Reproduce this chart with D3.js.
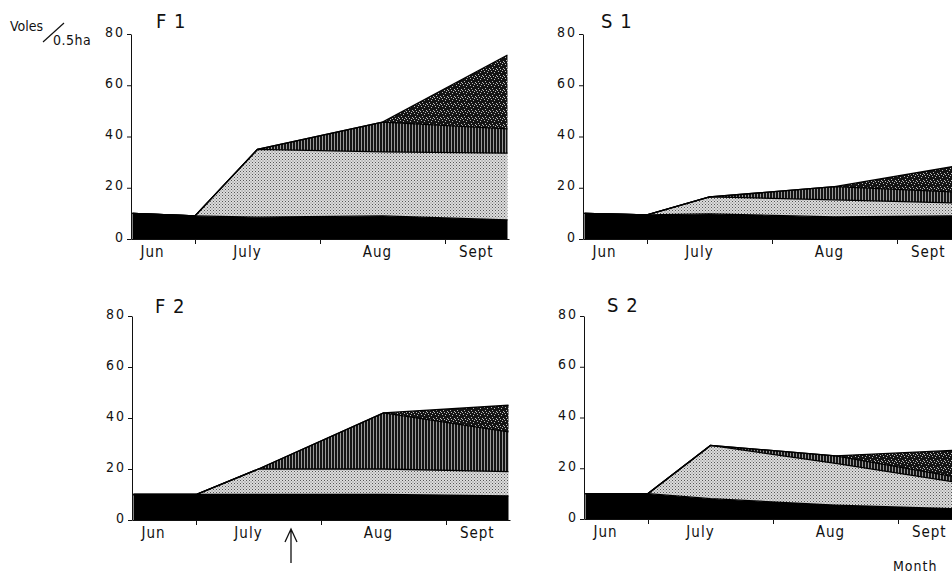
<!DOCTYPE html>
<html>
  <head>
    <meta charset="utf-8">
    <title>voles per 0.5 ha</title>
    <style>
      body { margin: 0; background-color: white; }
      svg text { font-family: "DejaVu Sans Condensed", "DejaVu Sans", sans-serif; fill: #111; }
      .axis path, .axis line { stroke: #111; stroke-width: 1; }
      .axis text { font-size: 14px; letter-spacing: 2px; }
    </style>
  </head>
  <body>
    <div id="chart"></div>

    <script src="https://d3js.org/d3.v7.min.js"></script>
    <script>
    var width = 952;
    var height = 576;

    // trapping sessions, in months counted from 1 June
    var sessions = [0.5, 1.0, 1.5, 2.5, 3.5];
    var monthTicks = [1, 2, 3];
    var monthLabels = ["Jun", "July", "Aug", "Sept"];
    var monthLabelAt = [0.66, 1.42, 2.46, 3.25];
    var yTicks = [0, 20, 40, 60, 80];
    var layerNames = ["black", "light", "hatch", "dark"];

    // layer thickness at each session (voles / 0.5 ha)
    var f1Black = [10, 9, 8.5, 9, 7.5];
    var f1Light = [0, 0, 26.5, 25, 26];
    var f1Hatch = [0, 0, 0, 11.6, 9.5];
    var f1Dark  = [0, 0, 0, 0, 28.8];

    var s1Black = [10, 9.4, 9.8, 8.6, 9];
    var s1Light = [0, 0, 6.6, 6.7, 5];
    var s1Hatch = [0, 0, 0, 5.1, 4.3];
    var s1Dark  = [0, 0, 0, 0, 10.4];

    var f2Black = [10, 10, 10, 10, 9.5];
    var f2Light = [0, 0, 10, 10, 9.5];
    var f2Hatch = [0, 0, 0, 22, 15.6];
    var f2Dark  = [0, 0, 0, 0, 10.4];

    var s2Black = [10, 10, 8, 5.5, 4];
    var s2Light = [0, 0, 21, 16.4, 10.2];
    var s2Hatch = [0, 0, 0, 3, 2];
    var s2Dark  = [0, 0, 0, 0, 11];

    var panels = [
      {title: "F 1", layers: [f1Black, f1Light, f1Hatch, f1Dark], left: 131, bottom: 239, top: 34, tx: 156, ty: 28},
      {title: "S 1", layers: [s1Black, s1Light, s1Hatch, s1Dark], left: 583, bottom: 239, top: 34, tx: 601, ty: 28},
      {title: "F 2", layers: [f2Black, f2Light, f2Hatch, f2Dark], left: 132, bottom: 520, top: 316, tx: 155, ty: 313},
      {title: "S 2", layers: [s2Black, s2Light, s2Hatch, s2Dark], left: 584, bottom: 519, top: 316, tx: 607, ty: 312}
    ];
    var plotWidth = 378;

    var svg = d3.select("#chart").append("svg")
      .attr("width", width)
      .attr("height", height);

    // fill textures
    var defs = svg.append("defs");

    var light = defs.append("pattern").attr("id", "light")
      .attr("patternUnits", "userSpaceOnUse").attr("width", 3).attr("height", 3);
    light.append("rect").attr("width", 3).attr("height", 3).attr("fill", "#dcdcdc");
    light.append("rect").attr("x", 0).attr("y", 0).attr("width", 1).attr("height", 1).attr("fill", "#555");
    light.append("rect").attr("x", 1.5).attr("y", 1.5).attr("width", 1).attr("height", 1).attr("fill", "#777");

    var hatch = defs.append("pattern").attr("id", "hatch")
      .attr("patternUnits", "userSpaceOnUse").attr("width", 3).attr("height", 6);
    hatch.append("rect").attr("width", 3).attr("height", 6).attr("fill", "#151515");
    hatch.append("rect").attr("x", 1).attr("width", 1).attr("height", 6).attr("fill", "#9a9a9a");

    var dark = defs.append("pattern").attr("id", "dark")
      .attr("patternUnits", "userSpaceOnUse").attr("width", 7).attr("height", 7);
    dark.append("rect").attr("width", 7).attr("height", 7).attr("fill", "#141414");
    [[1, 1], [4, 2], [2, 4], [6, 5], [5, 0], [0, 6], [3, 6]].forEach(function(p) {
      dark.append("rect").attr("x", p[0]).attr("y", p[1]).attr("width", 1).attr("height", 1).attr("fill", "#bbb");
    });

    var fills = {black: "#000", light: "url(#light)", hatch: "url(#hatch)", dark: "url(#dark)"};

    panels.forEach(function(p) {
      var x = d3.scaleLinear().domain([0.488, 3.512]).range([p.left, p.left + plotWidth]);
      var y = d3.scaleLinear().domain([0, 80]).range([p.bottom, p.top]);

      var rows = sessions.map(function(t, i) {
        var r = {t: t};
        layerNames.forEach(function(k, j) { r[k] = p.layers[j][i]; });
        return r;
      });
      var stacked = d3.stack().keys(layerNames)(rows);

      var area = d3.area()
        .x(function(d) { return x(d.data.t); })
        .y0(function(d) { return y(d[0]); })
        .y1(function(d) { return y(d[1]); });
      var topLine = d3.line()
        .x(function(d) { return x(d.data.t); })
        .y(function(d) { return y(d[1]); });

      var g = svg.append("g");

      g.selectAll("path.layer")
        .data(stacked)
        .enter()
        .append("path")
        .attr("class", "layer")
        .attr("d", area)
        .attr("fill", function(d) { return fills[d.key]; });

      g.selectAll("path.edge")
        .data(stacked)
        .enter()
        .append("path")
        .attr("class", "edge")
        .attr("d", topLine)
        .attr("fill", "none")
        .attr("stroke", "#000")
        .attr("stroke-width", 1.3);

      var yAxis = g.append("g")
        .attr("class", "axis")
        .attr("transform", "translate(" + p.left + ",0)")
        .call(d3.axisLeft(y).tickValues(yTicks).tickSize(4).tickSizeOuter(0).tickPadding(2));
      yAxis.selectAll("text").attr("dy", "0.15em");

      g.append("g")
        .attr("class", "axis")
        .attr("transform", "translate(0," + p.bottom + ")")
        .call(d3.axisBottom(x).tickValues(monthTicks).tickSize(5).tickSizeOuter(0).tickFormat(""));

      g.selectAll("text.month")
        .data(monthLabels)
        .enter()
        .append("text")
        .attr("class", "month")
        .attr("x", function(d, i) { return x(monthLabelAt[i]); })
        .attr("y", p.bottom + 18)
        .attr("text-anchor", "middle")
        .style("font-size", "15px")
        .style("letter-spacing", "1px")
        .text(function(d) { return d; });

      g.append("text")
        .attr("x", p.tx)
        .attr("y", p.ty)
        .style("font-size", "20px")
        .style("letter-spacing", "1px")
        .text(p.title);
    });

    // y label "Voles / 0.5ha"
    svg.append("text").attr("x", 10).attr("y", 31).style("font-size", "14px").text("Voles");
    svg.append("line").attr("x1", 43).attr("y1", 42).attr("x2", 64).attr("y2", 23)
      .attr("stroke", "#111").attr("stroke-width", 1.2);
    svg.append("text").attr("x", 53).attr("y", 45).style("font-size", "14px")
      .style("letter-spacing", "0.5px").text("0.5ha");

    svg.append("text").attr("x", 893).attr("y", 571).style("font-size", "14px")
      .style("letter-spacing", "1px").text("Month");

    // arrow under F2
    svg.append("path")
      .attr("d", "M291 563 V530 M285 542 L291 529 L297 542")
      .attr("fill", "none")
      .attr("stroke", "#111")
      .attr("stroke-width", 1.3);
    </script>
  </body>
</html>
